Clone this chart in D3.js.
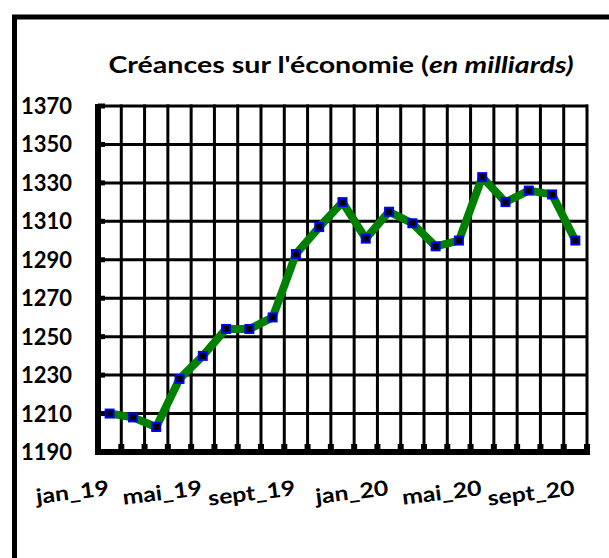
<!DOCTYPE html>
<html>
<head>
<meta charset="utf-8">
<script src="https://cdn.jsdelivr.net/npm/d3@7"></script>
<style>
  body { margin: 0; background: #fff; }
  text { font-family: Lato, "Open Sans", sans-serif; font-weight: bold; fill: #000; }
</style>
</head>
<body>
<div id="chart"></div>
<script>
// Créances sur l'économie, monthly, in billions.

const months = [
    'jan_19', 'févr_19', 'mars_19', 'avr_19', 'mai_19', 'juin_19', 'juil_19',
    'août_19', 'sept_19', 'oct_19', 'nov_19', 'déc_19',
    'jan_20', 'févr_20', 'mars_20', 'avr_20', 'mai_20', 'juin_20', 'juil_20',
    'août_20', 'sept_20'
];
const values = [
    1210, 1208, 1203, 1228, 1240, 1254, 1254, 1260, 1293, 1307, 1320,
    1301, 1315, 1309, 1297, 1300, 1333, 1320, 1326, 1324, 1300
];
const shownLabels = ['jan_19', 'mai_19', 'sept_19', 'jan_20', 'mai_20', 'sept_20'];
const yTicks = [1190, 1210, 1230, 1250, 1270, 1290, 1310, 1330, 1350, 1370];

const width = 609;
const height = 558;

const svg = d3.select('#chart')
    .append('svg')
    .attr('width', width)
    .attr('height', height);

svg.append('rect')
    .attr('width', width)
    .attr('height', height)
    .attr('fill', '#fff');

// Outer frame (runs off the right and bottom edges).
svg.append('rect')
    .attr('x', 14.5)
    .attr('y', 17)
    .attr('width', 620)
    .attr('height', 560)
    .attr('fill', 'none')
    .attr('stroke', '#000')
    .attr('stroke-width', 5);

const x = d3.scaleBand()
    .domain(months)
    .range([98, 587]);

const y = d3.scaleLinear()
    .domain([1190, 1370])
    .range([452, 106]);

const cx = d => x(d) + x.bandwidth() / 2;

// Title (the source picture is stretched sideways, so the text is too).
const title = svg.append('text')
    .attr('text-anchor', 'middle')
    .attr('transform', 'translate(341,73) scale(1.3,1)')
    .style('font-size', '22px');
title.append('tspan').text("Créances sur l'économie (");
title.append('tspan').style('font-style', 'italic').text('en milliards)');

// Horizontal gridlines.
svg.append('g')
    .selectAll('line')
    .data(yTicks)
    .enter()
    .append('line')
    .attr('x1', 98)
    .attr('x2', 588)
    .attr('y1', d => y(d))
    .attr('y2', d => y(d))
    .attr('stroke', '#000')
    .attr('stroke-width', 3);

// Vertical gridlines at category boundaries.
const bounds = months.map(m => x(m)).concat([x.range()[1]]);
svg.append('g')
    .selectAll('line')
    .data(bounds.slice(1))
    .enter()
    .append('line')
    .attr('x1', d => d)
    .attr('x2', d => d)
    .attr('y1', y(1370) - 1.5)
    .attr('y2', y(1190))
    .attr('stroke', '#000')
    .attr('stroke-width', 3);

// Tick marks on the axes.
svg.append('g')
    .selectAll('rect')
    .data(yTicks)
    .enter()
    .append('rect')
    .attr('x', 98)
    .attr('y', d => y(d) - 2.5)
    .attr('width', 7)
    .attr('height', 5)
    .attr('fill', '#000');

svg.append('g')
    .selectAll('rect')
    .data(bounds)
    .enter()
    .append('rect')
    .attr('x', d => d - 3)
    .attr('y', y(1190) - 8)
    .attr('width', 6)
    .attr('height', 8)
    .attr('fill', '#000');

// Axis lines.
svg.append('line')
    .attr('x1', 98).attr('x2', 98)
    .attr('y1', y(1370) - 2).attr('y2', y(1190) + 2)
    .attr('stroke', '#000')
    .attr('stroke-width', 6);

svg.append('line')
    .attr('x1', 95).attr('x2', 590)
    .attr('y1', y(1190)).attr('y2', y(1190))
    .attr('stroke', '#000')
    .attr('stroke-width', 6);

// Y labels.
svg.append('g')
    .selectAll('text')
    .data(yTicks)
    .enter()
    .append('text')
    .attr('x', 72)
    .attr('y', d => y(d) + 8)
    .attr('text-anchor', 'end')
    .style('font-size', '22px')
    .text(d => d);

// X labels, slightly tilted, anchored at their end.
svg.append('g')
    .selectAll('text')
    .data(shownLabels)
    .enter()
    .append('text')
    .attr('text-anchor', 'end')
    .attr('transform', d => `translate(${cx(d)},495) rotate(-7) scale(1.18,1)`)
    .style('font-size', '21px')
    .text(d => d);

// Series line.
const line = d3.line()
    .x((d, i) => cx(months[i]))
    .y(d => y(d));

svg.append('path')
    .datum(values)
    .attr('d', line)
    .attr('fill', 'none')
    .attr('stroke', '#008000')
    .attr('stroke-width', 8)
    .attr('stroke-linejoin', 'round');

// Markers.
svg.append('g')
    .selectAll('rect')
    .data(values)
    .enter()
    .append('rect')
    .attr('x', (d, i) => cx(months[i]) - 4)
    .attr('y', d => y(d) - 4)
    .attr('width', 8)
    .attr('height', 8)
    .attr('fill', '#000')
    .attr('stroke', '#0000ff')
    .attr('stroke-width', 2);
</script>
</body>
</html>
